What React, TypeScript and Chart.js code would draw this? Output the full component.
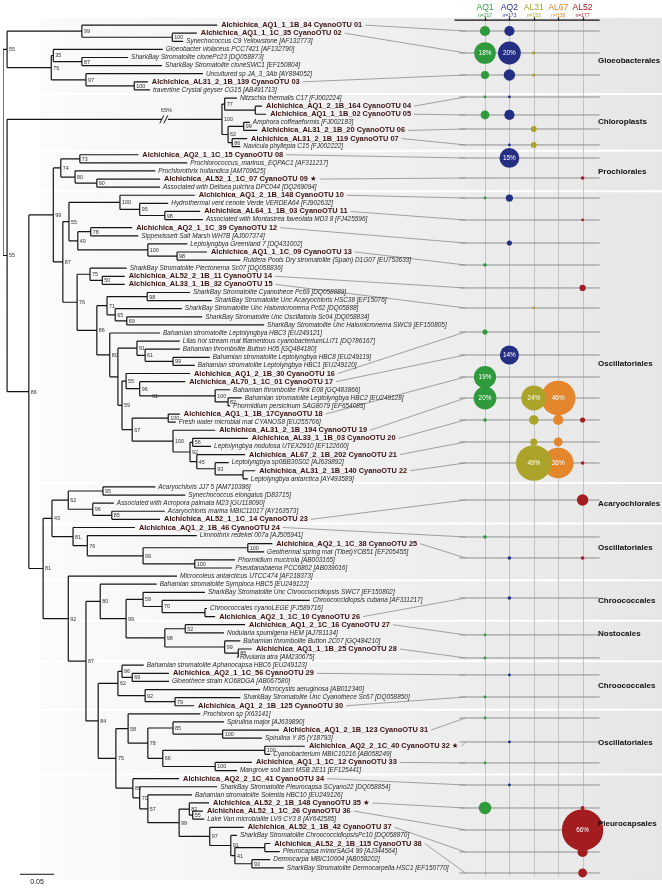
import React, { useEffect, useRef } from "react";
import { Chart, registerables } from "chart.js";
Chart.register(...registerables);

// ---------------- DATA ----------------
const LEAF_NAMES = [
  "Alchichica_AQ1_1_1B_84 CyanoOTU 01",
  "Alchichica_AQ1_1_1C_35 CyanoOTU 02",
  "Synechococcus C9 Yellowstone [AF132773]",
  "Gloeobacter violaceus PCC7421 [AF132790]",
  "SharkBay Stromatolite clonePc23 [DQ058873]",
  "SharkBay Stromatolite cloneSWC1 [EF150804]",
  "Uncultured sp JA_3_3Ab [AY884052]",
  "Alchichica_AL31_2_1B_139 CyanoOTU 03",
  "travertine Crystal geyser CG15 [AB491713]",
  "Nitzschia thermalis C17 [FJ002224]",
  "Alchichica_AQ1_2_1B_164 CyanoOTU 04",
  "Alchichica_AQ1_1_1B_02 CyanoOTU 05",
  "Amphora coffeaeformis [FJ002183]",
  "Alchichica_AL31_2_1B_20 CyanoOTU 06",
  "Alchichica_AL31_2_1B_119 CyanoOTU 07",
  "Navicula phyllepta C15 [FJ002222]",
  "Alchichica_AQ2_1_1C_15 CyanoOTU 08",
  "Prochlorococcus_marinus_EQPAC1 [AF311217]",
  "Prochlorothrix hollandica [AM709625]",
  "Alchichica_AL52_1_1C_07 CyanoOTU 09 \u2605",
  "Associated with Delisea pulchra DPC044 [DQ269094]",
  "Alchichica_AQ1_2_1B_148 CyanoOTU 10",
  "Hydrothermal vent cenote Verde VERDEA64 [FJ902632]",
  "Alchichica_AL64_1_1B_03 CyanoOTU 11",
  "Associated with Montastrea faveolata MD3 8 [FJ425596]",
  "Alchichica_AQ2_1_1C_39 CyanoOTU 12",
  "Sippewissett Salt Marsh WH7B [AJ007374]",
  "Leptolyngbya Greenland 7 [DQ431002]",
  "Alchichica_AQ1_1_1C_09 CyanoOTU 13",
  "Ruidera Pools Dry stromatolite (Spain) D1G07 [EU753633]",
  "SharkBay Stromatolite Plectonema Sc07 [DQ058836]",
  "Alchichica_AL52_2_1B_11 CyanoOTU 14",
  "Alchichica_AL33_1_1B_32 CyanoOTU 15",
  "SharkBay Stromatolite Cyanothece Pc69 [DQ058889]",
  "SharkBay Stromatolite Unc Acaryochloris HSC38 [EF15076]",
  "SharkBay Stromatolite Unc Halomicronema Pc62 [DQ05888]",
  "SharkBay Stromatolite Unc Oscillatoria Sc04 [DQ058834]",
  "SharkBay Stromatolite Unc Halomicronema SWC9 [EF150805]",
  "Bahamian stromatolite Leptolyngbya HBC3 [EU249121]",
  "Lilas hot stream mat filamentous cyanobacteriumLLi71 [DQ786167]",
  "Bahamian thrombolite Button H05 [GQ484180]",
  "Bahamian stromatolite Leptolyngbya HBC8 [EU249119]",
  "Bahamian stromatolite Leptolyngbya HBC1 [EU249120]",
  "Alchichica_AQ1_2_1B_30 CyanoOTU 16",
  "Alchichica_AL70_1_1C_01 CyanoOTU 17",
  "Bahamian thrombolite Pink E08 [GQ483866]",
  "Bahamian stromatolite Leptolyngbya HBC2 [EU249128]",
  "Phormidium persicinum SAG8079 [EF654085]",
  "Alchichica_AQ1_1_1B_17CyanoOTU 18",
  "Fresh water microbial mat CYANOS8 [EU255706]",
  "Alchichica_AL31_2_1B_194 CyanoOTU 19",
  "Alchichica_AL33_1_1B_03 CyanoOTU 20",
  "Leptolyngbya nodulosa UTEX2910 [EF122600]",
  "Alchichica_AL67_2_1B_202 CyanoOTU 21",
  "Leptolyngbya sp0BB30S02 [AJ639892]",
  "Alchichica_AL31_2_1B_140 CyanoOTU 22",
  "Leptolyngbya antarctica [AY493589]",
  "Acaryochloris JJ7 5 [AM710386]",
  "Synechococcus elongatus [D83715]",
  "Associated with Acropora palmata M23 [GU118090]",
  "Acaryochloris marina MBIC11017 [AY163573]",
  "Alchichica_AL52_1_1C_14 CyanoOTU 23",
  "Alchichica_AQ1_2_1B_46 CyanoOTU 24",
  "Limnothrix redekei 007a [AJ505941]",
  "Alchichica_AQ2_1_1C_38 CyanoOTU 25",
  "Geothermal spring mat (Tibet)YCB51 [EF205455]",
  "Phormidium mucicola [AB003165]",
  "Pseudanabaena PCC6802 [AB039016]",
  "Microcoleus antarcticus UTCC474 [AF218373]",
  "Bahamian stromatolite Symploca HBC5 [EU249122]",
  "SharkBay Stromatolite Unc Chroococcidiopsis SWC7 [EF150802]",
  "Chroococcidiopsis cubana [AF311217]",
  "Chroococcales cyanoLEGE [FJ589716]",
  "Alchichica_AQ2_1_1C_10 CyanoOTU 26",
  "Alchichica_AQ1_2_1C_16 CyanoOTU 27",
  "Nodularia spumigena HEM [AJ781134]",
  "Bahamian thrombolite Button 2C07 [GQ484210]",
  "Alchichica_AQ1_1_1B_25 CyanoOTU 28",
  "Rivularia atra [AM230675]",
  "Bahamian stromatolite Aphanocapsa HBC6 [EU249123]",
  "Alchichica_AQ2_1_1C_56 CyanoOTU 29",
  "Gloeothece strain KO68DGA [AB067580]",
  "Microcystis aeruginosa [AB012340]",
  "SharkBay Stromatolite Unc Cyanothece Sc67 [DQ058850]",
  "Alchichica_AQ1_2_1B_125 CyanoOTU 30",
  "Prochloron sp [X63141]",
  "Spirulina major [AJ639890]",
  "Alchichica_AQ1_2_1B_123 CyanoOTU 31",
  "Spirulina Y 85 [Y18793]",
  "Alchichica_AQ2_2_1C_40 CyanoOTU 32 \u2605",
  "Cyanobacterium MBIC10216 [AB058249]",
  "Alchichica_AQ1_1_1C_12 CyanoOTU 33",
  "Mangrove soil bact MSB 2E11 [EF125441]",
  "Alchichica_AQ2_2_1C_41 CyanoOTU 34",
  "SharkBay Stromatolite Pleurocapsa SCyano22 [DQ058854]",
  "Bahamian stromatolite Solentia HBC10 [EU249126]",
  "Alchichica_AL52_2_1B_148 CyanoOTU 35 \u2605",
  "Alchichica_AL52_1_1C_26 CyanoOTU 36",
  "Lake Van microbialite LV9 CY3 8 [AY642585]",
  "Alchichica_AL52_1_1B_42 CyanoOTU 37",
  "SharkBay Stromatolite ChroococcidiopsisPc10 [DQ058870]",
  "Alchichica_AL52_2_1B_115 CyanoOTU 38",
  "Pleurocapsa minorSAG4 99 [AJ344564]",
  "Dermocarpa MBIC10004 [AB058202]",
  "SharkBay Stromatolite Dermocarpella HSC1 [EF150770]",
];

// distance of every tip from the root (x 10^-3 substitutions / site)
const LEAF_TIPS = [
  315, 285, 265, 235, 184, 234, 294, 213, 216, 344,
  381, 387, 363, 374, 359, 349, 199, 271, 224, 231,
  231, 282, 243, 290, 294, 190, 199, 271, 300, 349,
  182, 179, 179, 275, 307, 263, 293, 384, 231, 260,
  260, 304, 282, 275, 268, 334, 351, 334, 260, 254,
  312, 360, 306, 356, 332, 371, 360, 224, 268, 163,
  238, 231, 194, 285, 396, 384, 341, 337, 256, 226,
  297, 451, 300, 312, 356, 325, 349, 366, 344, 207,
  244, 244, 378, 349, 281, 290, 325, 406, 381, 444,
  393, 366, 344, 259, 315, 278, 303, 294, 296, 354,
  344, 393, 407, 393, 413,
];

// Topology: leaf = index, clade = (children)bootstrap@depth (x 10^-3 subst/site)
const CLADE_GLOEO = "((0,(1,2)100@249)99@116,((3,(4,5)87@116)35@74,(6,(7,8)100@193)97@122)75@71)55@6";
const CLADE_CHLORO = "((9,(10,11)@371)77@326,((12,13)99@354,(14,15)86@337)62@331)100@322";
const CLADE_PROCHL = "((16,17)73@113,(18,(19,20)90@138)80@106)74@85";
const CLADE_A = "((21,(22,(23,24)98@238)95@201)100@172,((25,26)78@129,(27,(28,29)98@256)100@213)49@110)55@97";
const CLADE_B = "(30,(31,32)50@146)75@128";
const CLADE_C = "((33,34)98@212,(35,(36,37)69@182)65@165)71@153";
const CLADE_D = "(39,(40,(41,42)99@250)61@209)91@197";
const CLADE_E = "(43,(44,((45,(46,47)82@331)100@312)61@216)96@201)55@181";
const CLADE_F = "((48,49)100@243,(50,((51,52)56@279,(53,(54,(55,56)@353)93@312)45@285)92@275)100@250)67@190";
const CLADE_OSC = `(${CLADE_A},(${CLADE_B},(${CLADE_C},(38,(${CLADE_D},(${CLADE_E},${CLADE_F})59@175)@169)80@157)86@138)76@109)87@88`;
const CLADE_G = "((57,58)95@147,(59,(60,61)85@160)96@132)62@96";
const CLADE_H = "(62,(63,((64,65)100@360,(66,67)100@282)99@206)76@124)81@103";
const CLADE_I = "(69,((70,(71,(72,73)@297)70@234)59@206,((74,75)52@268,(76,(77,78)85@346)99@326)98@238)99@181)80@143";
const CLADE_J = "((79,(80,81)69@190)96@175,(82,(83,84)79@253)92@209)62@169";
const CLADE_K = "(85,((86,(87,88)100@323)85@250,((89,90)100@385,(91,92)100@312)66@235)78@213)58@184";
const CLADE_L = "(93,(94,(95,((96,(97,98)55@279)82@274,(99,(100,((101,102)@385,(103,104)93@366)41@341)91@335)97@304)99@259)57@213)70@201)85@191";
const CLADE_LOW = `((${CLADE_G},${CLADE_H})43@72,(68,(${CLADE_I},(${CLADE_J},(${CLADE_K},${CLADE_L})75@166)84@140)87@122)92@96)81@59`;
const TREE = `(${CLADE_GLOEO},(${CLADE_CHLORO},((${CLADE_PROCHL},${CLADE_OSC})99@74,${CLADE_LOW})86@38)55@6)@0`;

const BREAK_DEPTH = 238; // where the long chloroplast branch is cut
const BREAK_LABEL = "65%";
const SCALE_BAR = 0.05;

// Samples
const LAKES = ["AQ1", "AQ2", "AL31", "AL67", "AL52"];
const LAKE_N = [217, 173, 153, 136, 177];
const LAKE_COLORS = ["#2f9a3c", "#242e82", "#aba32a", "#e3862c", "#a31c20"];

// Relative abundance (%) of every CyanoOTU (01..38) in each sample
const AQ1_PCT = [4, 18, 2.5, 0.3, 3, 0, 0, 0, 0, 0.3, 0, 0, 0.5, 0, 0, 1, 0, 19, 20, 0.5, 0, 0, 0, 0.5, 0, 0, 0.3, 0.3, 0, 0.3, 0.3, 0, 0.3, 0, 6, 0, 0, 0];
const AQ2_PCT = [4, 20, 5, 0.3, 4, 0, 0.3, 15, 0, 2, 0, 1, 0, 0, 0, 0, 14, 0, 0, 0, 0, 0, 0, 0, 0.5, 0.5, 0, 0, 0.3, 0, 0, 0.3, 0, 0.3, 0, 0, 0, 0];
const AL31_PCT = [0, 0.4, 0.4, 0, 0, 1.3, 1.3, 0, 0, 0, 0, 0, 0, 0, 0.3, 0, 0, 0, 24, 3.5, 2, 49, 0, 0, 0, 0, 0, 0, 0, 0, 0, 0, 0, 0, 0, 0, 0, 0];
const AL67_PCT = [0, 0, 0, 0, 0, 0, 0, 0, 0, 0, 0, 0, 0, 0, 0, 0, 0, 0, 46, 4, 3, 36, 0, 0, 0, 0, 0, 0, 0, 0, 0, 0, 0, 0, 0, 0, 0, 0];
const AL52_PCT = [0, 0, 0, 0, 0, 0, 0, 0, 0.5, 0, 0.3, 0, 0, 1.5, 0, 0, 0, 0, 0, 1, 0, 0.5, 5, 0, 0.5, 0, 0, 0, 0, 0, 0, 0, 0, 0, 0.6, 66, 4, 3];
const SAMPLE_PCT = [AQ1_PCT, AQ2_PCT, AL31_PCT, AL67_PCT, AL52_PCT];

// vertical slot (in leaf rows) of each OTU's abundance line
const OTU_SLOT = [0.73, 3.44, 6.16, 8.87, 11.09, 12.82, 14.79, 16.4, 18.87, 21.34, 24.05, 26.89, 29.61, 32.44, 34.91, 37.87, 40.71, 43.43, 46.02, 48.73, 51.45, 54.04, 58.61, 63.17, 65.76, 70.7, 75.26, 78.1, 80.2, 82.92, 85.51, 88.47, 91.06, 93.78, 96.62, 99.33, 102.05, 104.64];

// Orders
const GROUP_NAMES = ["Gloeobacterales", "Chloroplasts", "Prochlorales", "Oscillatoriales", "Acaryochlorales", "Oscillatoriales", "Chroococcales", "Nostocales", "Chroococcales", "Oscillatoriales", "Pleurocapsales"];
const GROUP_LAST = [8, 15, 20, 56, 61, 68, 73, 78, 84, 92, 104];
const GROUP_LABEL_ROW = [4.44, 11.97, 18.14, 41.84, 59.11, 64.54, 71.08, 75.16, 81.57, 88.6, 98.6];

// ---------------- TREE PARSE ----------------
type TNode = { leaf: number; depth: number; label: string; children: TNode[]; y: number };

function parseTree(src: string): TNode {
  const s = src.replace(/\s+/g, "");
  let i = 0;
  const readNum = () => {
    let t = "";
    while (i < s.length && /[0-9.]/.test(s[i])) t += s[i++];
    return parseFloat(t);
  };
  const node = (): TNode => {
    if (s[i] === "(") {
      i++;
      const children: TNode[] = [];
      for (;;) {
        children.push(node());
        if (s[i] === ",") { i++; continue; }
        i++;
        break;
      }
      let label = "";
      while (s[i] !== "@") label += s[i++];
      i++;
      const depth = readNum();
      const y = (children[0].y + children[children.length - 1].y) / 2;
      return { leaf: -1, depth, label, children, y };
    }
    const leaf = readNum();
    return { leaf, depth: LEAF_TIPS[leaf], label: "", children: [], y: leaf };
  };
  return node();
}

const FONT = '"Liberation Sans", Arial, "DejaVu Sans", sans-serif';

export default function App() {
  const ref = useRef<HTMLCanvasElement>(null);
  useEffect(() => {
    const canvas = ref.current!;
    const root = parseTree(TREE);
    const segs: { x: number; y: number }[] = [];
    const internal: TNode[] = [];
    let chloroNode: TNode | null = null;
    const walk = (n: TNode) => {
      if (!n.children.length) return;
      internal.push(n);
      const d = n.depth / 1000;
      const a = n.children[0].y, b = n.children[n.children.length - 1].y;
      if (a !== b) segs.push({ x: d, y: a }, { x: d, y: b }, { x: NaN, y: NaN });
      for (const c of n.children) {
        segs.push({ x: d, y: c.y }, { x: c.depth / 1000, y: c.y }, { x: NaN, y: NaN });
        if (c.children.length && c.label === "100" && c.depth === 322) chloroNode = c;
        walk(c);
      }
    };
    walk(root);

    const otuLeaves = LEAF_NAMES.map((n, i) => (n.indexOf("CyanoOTU") >= 0 ? i : -1)).filter((i) => i >= 0);

    const rowLines: { x: number; y: number }[] = [];
    OTU_SLOT.forEach((s) => rowLines.push({ x: -0.05, y: s }, { x: 5.7, y: s }, { x: NaN, y: NaN }));

    const bubbleSets = LAKES.map((lake, li) => ({
      type: "bubble" as const,
      label: lake,
      xAxisID: "x2",
      yAxisID: "y",
      data: SAMPLE_PCT[li]
        .map((p, k) => ({ x: li + 1, y: OTU_SLOT[k], r: 2.55 * Math.sqrt(p), p }))
        .filter((d) => d.p > 0),
      backgroundColor: LAKE_COLORS[li],
      borderWidth: 0,
      order: 0,
    }));

    const plugin = {
      id: "phylo",
      beforeDatasetsDraw(chart: any) {
        const ctx = chart.ctx as CanvasRenderingContext2D;
        const xs = chart.scales.x, x2 = chart.scales.x2, ys = chart.scales.y;
        ctx.save();
        const top = ys.getPixelForValue(-0.9), bot = ys.getPixelForValue(105.5);
        const g = ctx.createLinearGradient(40, 0, 662, 0);
        g.addColorStop(0, "#fbfbfb");
        g.addColorStop(1, "#e6e6e6");
        ctx.fillStyle = g;
        ctx.fillRect(40, top, 662 - 40, bot - top);
        ctx.strokeStyle = "#ffffff";
        ctx.lineWidth = 2;
        for (let k = 0; k < GROUP_LAST.length - 1; k++) {
          const y = ys.getPixelForValue(GROUP_LAST[k] + 0.5);
          ctx.beginPath();
          ctx.moveTo(40, y);
          ctx.lineTo(662, y);
          ctx.stroke();
        }
        const hy = ys.getPixelForValue(-0.62);
        ctx.strokeStyle = "#c4c4c4";
        ctx.lineWidth = 1;
        for (let c = 1; c <= 5; c++) {
          const px = Math.round(x2.getPixelForValue(c)) + 0.5;
          ctx.beginPath();
          ctx.moveTo(px, hy);
          ctx.lineTo(px, ys.getPixelForValue(105.1));
          ctx.stroke();
        }
        ctx.font = `bold 7.4px ${FONT}`;
        ctx.strokeStyle = "#8c8c8c";
        ctx.lineWidth = 0.8;
        otuLeaves.forEach((li, k) => {
          const sx = xs.getPixelForValue(LEAF_TIPS[li] / 1000) + 4 + ctx.measureText(LEAF_NAMES[li]).width + 3;
          const sy = ys.getPixelForValue(li);
          ctx.beginPath();
          ctx.moveTo(sx, sy);
          ctx.lineTo(x2.getPixelForValue(0.2), ys.getPixelForValue(OTU_SLOT[k]));
          ctx.stroke();
        });
        ctx.restore();
      },
      afterDatasetsDraw(chart: any) {
        const ctx = chart.ctx as CanvasRenderingContext2D;
        const xs = chart.scales.x, x2 = chart.scales.x2, ys = chart.scales.y;
        ctx.save();
        ctx.textBaseline = "middle";
        LEAF_NAMES.forEach((name, i) => {
          const otu = name.indexOf("CyanoOTU") >= 0;
          const px = xs.getPixelForValue(LEAF_TIPS[i] / 1000);
          const py = ys.getPixelForValue(i);
          if (otu) {
            ctx.font = `bold 7.4px ${FONT}`;
            ctx.fillStyle = "#3a1212";
            ctx.fillText(name, px + 4, py);
          } else {
            ctx.font = `italic 6.45px ${FONT}`;
            ctx.fillStyle = "#2a2a2a";
            ctx.fillText(name, px + 3, py);
          }
        });
        ctx.font = `5.4px ${FONT}`;
        ctx.fillStyle = "#333";
        internal.forEach((n) => {
          if (!n.label) return;
          ctx.fillText(n.label, xs.getPixelForValue(n.depth / 1000) + 2, ys.getPixelForValue(n.y) + 0.5);
        });
        if (chloroNode) {
          const cx = xs.getPixelForValue(BREAK_DEPTH / 1000);
          const cy = ys.getPixelForValue((chloroNode as TNode).y);
          ctx.fillStyle = "#f3f3f3";
          ctx.fillRect(cx - 3, cy - 2, 6, 4);
          ctx.strokeStyle = "#111";
          ctx.lineWidth = 1;
          ctx.beginPath();
          ctx.moveTo(cx - 5, cy + 4); ctx.lineTo(cx - 1, cy - 4);
          ctx.moveTo(cx - 1, cy + 4); ctx.lineTo(cx + 3, cy - 4);
          ctx.stroke();
          ctx.font = `5.6px ${FONT}`;
          ctx.fillStyle = "#333";
          ctx.fillText(BREAK_LABEL, cx - 4, cy - 9);
        }
        ctx.textAlign = "center";
        ctx.font = `6.4px ${FONT}`;
        ctx.fillStyle = "#ffffff";
        SAMPLE_PCT.forEach((arr, li) =>
          arr.forEach((p, k) => {
            if (p >= 14) ctx.fillText(`${p}%`, x2.getPixelForValue(li + 1), ys.getPixelForValue(OTU_SLOT[k]) + 0.5);
          })
        );
        const hy = ys.getPixelForValue(-0.62);
        LAKES.forEach((lake, li) => {
          const px = x2.getPixelForValue(li + 1);
          ctx.fillStyle = LAKE_COLORS[li];
          ctx.font = `8.6px ${FONT}`;
          ctx.fillText(lake, px, hy - 12);
          ctx.font = `5px ${FONT}`;
          ctx.fillText(`n=${LAKE_N[li]}`, px, hy - 4.5);
        });
        ctx.strokeStyle = "#111";
        ctx.lineWidth = 1.2;
        ctx.beginPath();
        ctx.moveTo(x2.getPixelForValue(-0.25), hy);
        ctx.lineTo(x2.getPixelForValue(5.7), hy);
        for (let c = 1; c <= 5; c++) {
          const px = Math.round(x2.getPixelForValue(c)) + 0.5;
          ctx.moveTo(px, hy - 2.5);
          ctx.lineTo(px, hy);
        }
        ctx.stroke();
        ctx.textAlign = "left";
        ctx.font = `bold 8px ${FONT}`;
        ctx.fillStyle = "#111";
        GROUP_NAMES.forEach((g, k) => ctx.fillText(g, x2.getPixelForValue(5.63), ys.getPixelForValue(GROUP_LABEL_ROW[k])));
        const sy = ys.getPixelForValue(104.8);
        const sx0 = xs.getPixelForValue(0.025);
        const sx1 = xs.getPixelForValue(0.025 + SCALE_BAR);
        ctx.strokeStyle = "#111";
        ctx.lineWidth = 1;
        ctx.beginPath();
        ctx.moveTo(sx0, sy);
        ctx.lineTo(sx1, sy);
        ctx.stroke();
        ctx.textAlign = "center";
        ctx.font = `7px ${FONT}`;
        ctx.fillText(String(SCALE_BAR), (sx0 + sx1) / 2, sy + 8);
        ctx.restore();
      },
    };

    const chart = new Chart(canvas, {
      type: "scatter",
      data: {
        datasets: [
          {
            type: "line" as const,
            label: "rows",
            data: rowLines,
            xAxisID: "x2",
            yAxisID: "y",
            borderColor: "#8f8f8f",
            borderWidth: 1,
            pointRadius: 0,
            spanGaps: false,
            order: 3,
          },
          {
            type: "line" as const,
            label: "tree",
            data: segs,
            xAxisID: "x",
            yAxisID: "y",
            borderColor: "#151515",
            borderWidth: 1.2,
            pointRadius: 0,
            spanGaps: false,
            order: 2,
          },
          ...bubbleSets,
        ] as any,
      },
      options: {
        animation: false,
        responsive: false,
        devicePixelRatio: 1,
        layout: { autoPadding: false, padding: { left: 3, right: 0, top: 17, bottom: 6 } },
        plugins: { legend: { display: false }, tooltip: { enabled: false } },
        events: [],
        scales: {
          x: { type: "linear", min: 0, max: 659 / 680, display: false },
          x2: { type: "linear", min: 1 - 482 / 24.4, max: 1 - 482 / 24.4 + 659 / 24.4, display: false },
          y: { type: "linear", min: -1, max: 106, reverse: true, display: false },
        },
      },
      plugins: [plugin],
    });
    return () => chart.destroy();
  }, []);

  return (
    <div style={{ position: "absolute", left: 0, top: 0, width: 662, height: 890, background: "#fff" }}>
      <canvas ref={ref} width={662} height={890} style={{ width: 662, height: 890, display: "block" }} />
    </div>
  );
}
